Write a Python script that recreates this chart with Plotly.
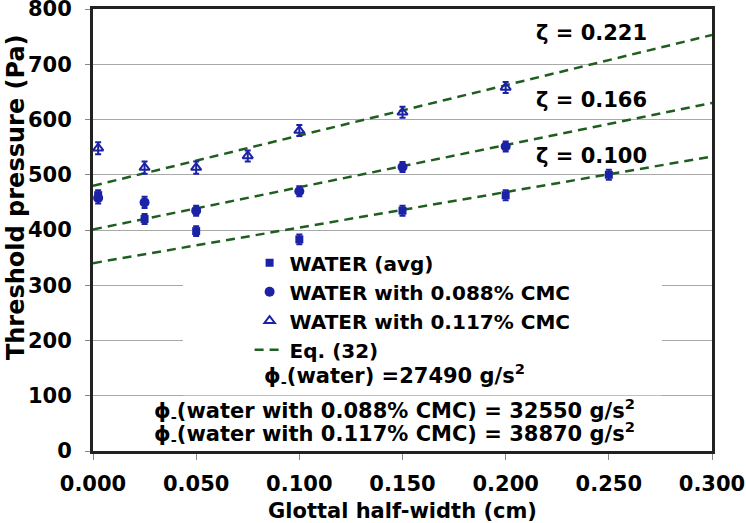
import plotly.graph_objects as go

# ---- data ----
x_water = [0.0025, 0.025, 0.05, 0.10, 0.15, 0.20, 0.25]
y_water = [463, 420, 398, 383, 435, 463, 500]
e_water = [9, 9, 9, 9, 9, 9, 9]

x_cmc088 = [0.0025, 0.025, 0.05, 0.10, 0.15, 0.20]
y_cmc088 = [458, 450, 435, 470, 514, 551]
e_cmc088 = [10, 10, 9, 9, 9, 9]

x_cmc117 = [0.0025, 0.025, 0.05, 0.075, 0.10, 0.15, 0.20]
y_cmc117 = [548, 513, 513, 534, 580, 613, 658]
e_cmc117 = [11, 11, 11, 10, 10, 10, 10]

eq_x = [0.0, 0.3]
eq_water = [340, 533]
eq_088 = [401, 630]
eq_117 = [480, 753]

zeta_labels = ["ζ = 0.221", "ζ = 0.166", "ζ = 0.100"]
zeta_y = [756, 635, 534]

phi_texts = [
    "ϕ<sub>-</sub>(water) =27490 g/s<sup>2</sup>",
    "ϕ<sub>-</sub>(water with 0.088% CMC) = 32550 g/s<sup>2</sup>",
    "ϕ<sub>-</sub>(water with 0.117% CMC) = 38870 g/s<sup>2</sup>",
]
phi_y = [137, 74, 33]

x_ticks = [0.0, 0.05, 0.10, 0.15, 0.20, 0.25, 0.30]
x_tick_labels = ["0.000", "0.050", "0.100", "0.150", "0.200", "0.250", "0.300"]
y_ticks = [0, 100, 200, 300, 400, 500, 600, 700, 800]

x_title = "Glottal half-width (cm)"
y_title = "Threshold pressure (Pa)"

# ---- style ----
BLUE = "#1b22a6"
GREEN = "#1e5e1e"
FONT = "DejaVu Sans"
FS = 21

fig = go.Figure()

# Eq. (32) lines
for i, ys in enumerate([eq_water, eq_088, eq_117]):
    fig.add_trace(go.Scatter(
        x=eq_x, y=ys, mode="lines",
        line=dict(color=GREEN, width=2.5, dash="9px,6px"),
        name="Eq. (32)", legendgroup="eq", showlegend=(i == 0),
        legendrank=4,
    ))

fig.add_trace(go.Scatter(
    x=x_water, y=y_water, mode="markers", name="WATER (avg)",
    marker=dict(symbol="square", size=8, color=BLUE),
    error_y=dict(type="data", array=e_water, color=BLUE, thickness=2, width=3),
    legendrank=1,
))
fig.add_trace(go.Scatter(
    x=x_cmc088, y=y_cmc088, mode="markers", name="WATER with 0.088% CMC",
    marker=dict(symbol="circle", size=10, color=BLUE),
    error_y=dict(type="data", array=e_cmc088, color=BLUE, thickness=2, width=3),
    legendrank=2,
))
fig.add_trace(go.Scatter(
    x=x_cmc117, y=y_cmc117, mode="markers", name="WATER with 0.117% CMC",
    marker=dict(symbol="triangle-up-open", size=9, color=BLUE, line=dict(width=2, color=BLUE)),
    error_y=dict(type="data", array=e_cmc117, color=BLUE, thickness=2, width=3),
    legendrank=3,
))

# white legend box (between gridlines and traces)
fig.add_shape(type="rect", xref="x", yref="y", x0=0.0436, x1=0.2757, y0=101, y1=362,
              fillcolor="white", line=dict(width=0), layer="between")

annotations = []
for lab, yy in zip(zeta_labels, zeta_y):
    annotations.append(dict(x=0.2415, y=yy, xref="x", yref="y", text=lab, showarrow=False,
                            font=dict(family=FONT, size=FS, color="black", weight="bold")))
for txt, yy in zip(phi_texts, phi_y):
    annotations.append(dict(x=0.146, y=yy, xref="x", yref="y", text=txt, showarrow=False,
                            font=dict(family=FONT, size=FS, color="black", weight="bold")))
# y-axis title (placed as annotation to match reference position)
annotations.append(dict(x=-0.124, y=0.575, xref="paper", yref="paper", text=y_title,
                        textangle=-90, showarrow=False, xanchor="center", yanchor="middle",
                        font=dict(family=FONT, size=24, color="black", weight="bold")))

fig.update_layout(
    width=746, height=523,
    margin=dict(l=93, r=34, t=9, b=72, autoexpand=False),
    paper_bgcolor="white", plot_bgcolor="white",
    font=dict(family=FONT, size=FS, color="black"),
    showlegend=True,
    legend=dict(x=0.253, y=0.47, xanchor="left", yanchor="top",
                bgcolor="rgba(0,0,0,0)", borderwidth=0,
                font=dict(family=FONT, size=20, color="black", weight="bold"),
                tracegroupgap=0, itemwidth=30),
    annotations=annotations,
    xaxis=dict(range=[0, 0.3], tickvals=x_ticks, ticktext=x_tick_labels,
               showgrid=False, zeroline=False, automargin=False,
               showline=True, linecolor="#222", linewidth=3, mirror=True,
               ticks="outside", ticklen=6, tickcolor="#888", tickwidth=1,
               ticklabelstandoff=6, ticklabeloverflow="allow",
               tickfont=dict(family=FONT, size=FS, color="black", weight="bold"),
               title=dict(text=x_title, standoff=12,
                          font=dict(family=FONT, size=FS, color="black", weight="bold"))),
    yaxis=dict(range=[0, 800], tickvals=y_ticks,
               showgrid=True, gridcolor="#a8a8a8", gridwidth=1, zeroline=False,
               automargin=False,
               showline=True, linecolor="#222", linewidth=3, mirror=True,
               ticks="outside", ticklen=5, tickcolor="#888", tickwidth=1,
               ticklabelstandoff=9, ticklabeloverflow="allow",
               tickfont=dict(family=FONT, size=FS, color="black", weight="bold")),
)

fig.write_html("out.html", config={"displayModeBar": False},
               post_script="document.body.style.margin='0';document.body.style.overflow='hidden';")
